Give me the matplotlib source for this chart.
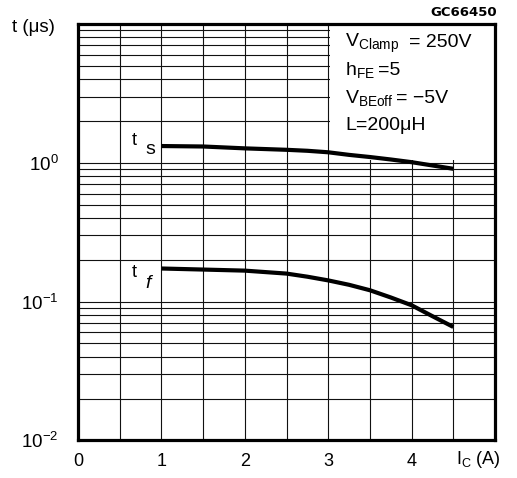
import matplotlib
matplotlib.use("Agg")
import matplotlib.pyplot as plt
from matplotlib.patches import Rectangle
from matplotlib.ticker import LogLocator, FixedLocator, NullFormatter

# Data
ic = [1.0, 1.5, 2.0, 2.5, 2.75, 3.0, 3.25, 3.5, 3.75, 4.0, 4.25, 4.5]
ts = [1.32, 1.31, 1.27, 1.24, 1.22, 1.19, 1.14, 1.10, 1.056, 1.01, 0.956, 0.905]
tf = [0.173, 0.170, 0.167, 0.159, 0.151, 0.142, 0.132, 0.1206, 0.107, 0.094, 0.0784, 0.0656]

x_ticks = [0, 1, 2, 3, 4, 5]
x_labels = ["0", "1", "2", "3", "4", ""]
y_ticks = [1e-2, 1e-1, 1e0, 1e1]
y_labels = ["$10^{-2}$", "$10^{-1}$", "$10^{0}$", ""]

W, H = 517, 478

plt.rcParams["font.family"] = ["Liberation Sans", "DejaVu Sans"]
plt.rcParams["mathtext.fontset"] = "custom"
plt.rcParams["mathtext.rm"] = "Liberation Sans"
plt.rcParams["mathtext.it"] = "Liberation Sans:italic"
plt.rcParams["mathtext.bf"] = "Liberation Sans:bold"
plt.rcParams["mathtext.default"] = "regular"


def px(x, y):
    return x / W, 1 - y / H


fig = plt.figure(figsize=(W / 100, H / 100), dpi=100)
ax = fig.add_axes([78 / W, 1 - 440.3 / H, (495 - 78) / W, (440.3 - 24) / H])

ax.set_yscale("log")
ax.set_xlim(0, 5)
ax.set_ylim(1e-2, 1e1)

# ticks and grid
ax.xaxis.set_major_locator(FixedLocator(x_ticks))
ax.set_xticklabels(x_labels)
ax.xaxis.set_minor_locator(FixedLocator([0.5, 1.5, 2.5, 3.5, 4.5]))
ax.yaxis.set_major_locator(FixedLocator(y_ticks))
ax.set_yticklabels(y_labels)
ax.yaxis.set_minor_locator(LogLocator(base=10, subs=range(2, 10)))
ax.yaxis.set_minor_formatter(NullFormatter())

ax.tick_params(which="both", length=0)
ax.tick_params(axis="x", labelsize=13, pad=9)
ax.tick_params(axis="y", labelsize=13.5, pad=14)

ax.set_axisbelow(True)
ax.grid(True, which="both", color="#111111", linewidth=0.8)

for s in ax.spines.values():
    s.set_linewidth(2.3)
    s.set_color("black")

# white area behind the conditions text
ax.add_patch(Rectangle((3.02, 1.04), 2.0, 10, facecolor="white",
                       edgecolor="none", zorder=1))

# curves
ax.plot(ic, ts, color="black", linewidth=3, solid_capstyle="butt", zorder=3)
ax.plot(ic, tf, color="black", linewidth=3, solid_capstyle="butt", zorder=3)

# curve labels
fig.text(*px(132, 145), "t", fontsize=13, va="baseline")
fig.text(*px(145, 154), "s", fontsize=14, va="baseline")
fig.text(*px(132, 277), "t", fontsize=13, va="baseline")
fig.text(*px(145, 288), "f", fontsize=14, va="baseline", style="italic")

# conditions
fig.text(*px(345, 47), r"V$_{\mathrm{Clamp}}$", fontsize=14, va="baseline")
fig.text(*px(409, 47), "= 250V", fontsize=14, va="baseline")
fig.text(*px(345, 75), r"h$_{\mathrm{FE}}$", fontsize=14, va="baseline")
fig.text(*px(378, 75), "=5", fontsize=14, va="baseline")
fig.text(*px(345, 103), r"V$_{\mathrm{BEoff}}$", fontsize=14, va="baseline")
fig.text(*px(396, 103), "= \u22125V", fontsize=14, va="baseline")
fig.text(*px(345, 130), "L=200\u03bcH", fontsize=14, va="baseline")

# axis labels
fig.text(*px(12, 28), "t (\u03bcs)", fontsize=13.5, va="center")
fig.text(*px(456, 460), r"I$_{\mathrm{C}}$ (A)", fontsize=13, va="center")
fig.text(*px(497, 13), "GC66450", fontsize=9.5, ha="right", va="center",
         family="DejaVu Sans", weight="bold")

fig.savefig("out.png", dpi=100)
